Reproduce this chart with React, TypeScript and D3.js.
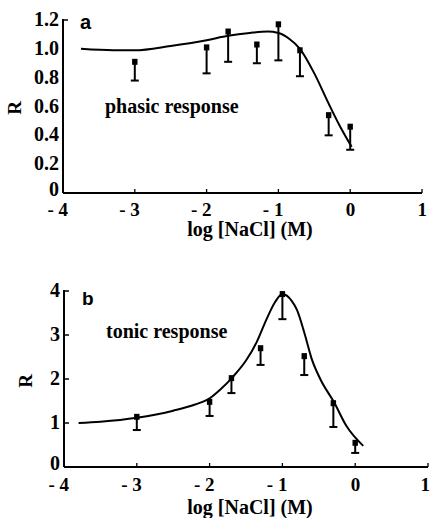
import React from "react";
import * as d3 from "d3";

// NaCl concentrations (log M) at which responses were measured
const logConc = [-3, -2, -1.7, -1.3, -1, -0.7, -0.3, 0];

// Phasic response: mean and lower end of the error bar
const phasicMean = [0.91, 1.01, 1.12, 1.03, 1.17, 0.99, 0.54, 0.46];
const phasicLow = [0.78, 0.83, 0.91, 0.9, 0.92, 0.81, 0.4, 0.3];

// Tonic response: mean and lower end of the error bar
const tonicMean = [1.14, 1.48, 2.02, 2.7, 3.93, 2.52, 1.45, 0.55];
const tonicLow = [0.84, 1.16, 1.68, 2.32, 3.36, 2.09, 0.91, 0.32];

// Fitted curves (log M, R)
const phasicFitX = [-3.75, -3.3, -3, -2.5, -2, -1.7, -1.4, -1.15, -1.0, -0.85, -0.7, -0.5, -0.3, -0.15, 0.02];
const phasicFitY = [1.0, 0.99, 0.99, 1.02, 1.06, 1.09, 1.11, 1.12, 1.11, 1.07, 1.0, 0.83, 0.62, 0.47, 0.32];
const tonicFitX = [-3.8, -3.5, -3, -2.5, -2.2, -2, -1.86, -1.68, -1.5, -1.35, -1.22, -1.1, -1.0, -0.87, -0.8, -0.69, -0.6, -0.48, -0.29, -0.12, 0.11];
const tonicFitY = [1.0, 1.03, 1.12, 1.28, 1.42, 1.56, 1.75, 2.05, 2.42, 2.85, 3.35, 3.75, 3.93, 3.77, 3.57, 3.0, 2.47, 2.0, 1.47, 0.93, 0.48];

const xTicks = [-4, -3, -2, -1, 0, 1];
const phasicYTicks = [0, 0.2, 0.4, 0.6, 0.8, 1.0, 1.2];
const tonicYTicks = [0, 1, 2, 3, 4];

const SERIF = "'Liberation Serif', 'DejaVu Serif', serif";
const SANS = "'Liberation Sans', Arial, sans-serif";

type PanelProps = {
  letter: string;
  title: string;
  titleX: number;
  titleY: number;
  xRange: [number, number];
  yRange: [number, number];
  yMax: number;
  yTicks: number[];
  yFmt: (v: number) => string;
  allYTicks: boolean;
  mean: number[];
  low: number[];
  fitX: number[];
  fitY: number[];
  rX: number;
  rY: number;
  tickLabelY: number;
  axisLabelY: number;
  letterX: number;
  letterY: number;
  letterSize: number;
};

function Panel(p: PanelProps) {
  const x = d3.scaleLinear().domain([-4, 1]).range(p.xRange);
  const y = d3.scaleLinear().domain([0, p.yMax]).range(p.yRange);
  const x0 = p.xRange[0];
  const y0 = p.yRange[0];
  const line = d3
    .line<number>()
    .x((_, i) => x(p.fitX[i]))
    .y((d) => y(d))
    .curve(d3.curveMonotoneX);

  const shownYTicks = p.allYTicks ? p.yTicks : [p.yMax];

  return (
    <g>
      {/* axes */}
      <line x1={x0} x2={x(1)} y1={y0} y2={y0} stroke="#000" strokeWidth={2} />
      <line x1={x0} x2={x0} y1={y0} y2={y(p.yMax) - 1} stroke="#000" strokeWidth={2} />
      {xTicks.slice(1).map((t) => (
        <line key={"xt" + t} x1={x(t)} x2={x(t)} y1={y0} y2={y0 - 4} stroke="#000" strokeWidth={1.3} />
      ))}
      {shownYTicks.map((t) => (
        <line key={"yt" + t} x1={x0} x2={x0 + 5} y1={y(t)} y2={y(t)} stroke="#000" strokeWidth={1.5} />
      ))}
      {xTicks.map((t) => (
        <text
          key={"xl" + t}
          x={Math.min(x(t) + 5, 430)}
          y={p.tickLabelY}
          textAnchor="end"
          fontFamily={SERIF}
          fontWeight="bold"
          fontSize={19}
        >
          {t < 0 ? "- " + Math.abs(t) : String(t)}
        </text>
      ))}
      {p.yTicks.map((t) => (
        <text
          key={"yl" + t}
          x={x0 - 4}
          y={y(t) + (t === 0 ? 3 : 6)}
          textAnchor="end"
          fontFamily={SERIF}
          fontWeight="bold"
          fontSize={20}
        >
          {p.yFmt(t)}
        </text>
      ))}
      {/* axis titles */}
      <text
        x={250}
        y={p.axisLabelY}
        textAnchor="middle"
        fontFamily={SERIF}
        fontWeight="bold"
        fontSize={20}
      >
        log [NaCl] (M)
      </text>
      <text
        transform={`translate(${p.rX},${p.rY}) rotate(-90)`}
        textAnchor="middle"
        fontFamily={SERIF}
        fontWeight="bold"
        fontSize={19}
      >
        R
      </text>
      <text x={p.letterX} y={p.letterY} fontFamily={SANS} fontWeight="bold" fontSize={p.letterSize}>
        {p.letter}
      </text>
      <text x={p.titleX} y={p.titleY} fontFamily={SERIF} fontWeight="bold" fontSize={20}>
        {p.title}
      </text>
      {/* fitted curve */}
      <path d={line(p.fitY) || ""} fill="none" stroke="#000" strokeWidth={2} />
      {/* data: mean with lower error bar */}
      {logConc.map((c, i) => {
        const cx = x(c);
        const ym = y(p.mean[i]);
        const yl = y(p.low[i]);
        return (
          <g key={"pt" + i}>
            <line x1={cx} x2={cx} y1={ym} y2={yl} stroke="#000" strokeWidth={2} />
            <line x1={cx - 4} x2={cx + 4} y1={yl} y2={yl} stroke="#000" strokeWidth={2} />
            <rect x={cx - 2.7} y={ym - 3} width={5.4} height={6} fill="#000" />
          </g>
        );
      })}
    </g>
  );
}

export default function App() {
  return (
    <svg
      width={430}
      height={518}
      viewBox="0 0 430 518"
      style={{ position: "absolute", left: 0, top: 0, background: "#fff" }}
    >
      <rect width={430} height={518} fill="#fff" />
      <Panel
        letter="a"
        title="phasic response"
        titleX={105}
        titleY={113}
        xRange={[63, 422]}
        yRange={[193, 20]}
        yMax={1.2}
        yTicks={phasicYTicks}
        yFmt={(v) => (v === 0 ? "0" : v.toFixed(1))}
        allYTicks={false}
        mean={phasicMean}
        low={phasicLow}
        fitX={phasicFitX}
        fitY={phasicFitY}
        rX={21}
        rY={108}
        tickLabelY={216}
        axisLabelY={236}
        letterX={80}
        letterY={29}
        letterSize={20}
      />
      <Panel
        letter="b"
        title="tonic response"
        titleX={106}
        titleY={338}
        xRange={[64, 428]}
        yRange={[467, 291]}
        yMax={4}
        yTicks={tonicYTicks}
        yFmt={(v) => String(v)}
        allYTicks={true}
        mean={tonicMean}
        low={tonicLow}
        fitX={tonicFitX}
        fitY={tonicFitY}
        rX={32}
        rY={381}
        tickLabelY={491}
        axisLabelY={514}
        letterX={82}
        letterY={305}
        letterSize={19}
      />
    </svg>
  );
}
